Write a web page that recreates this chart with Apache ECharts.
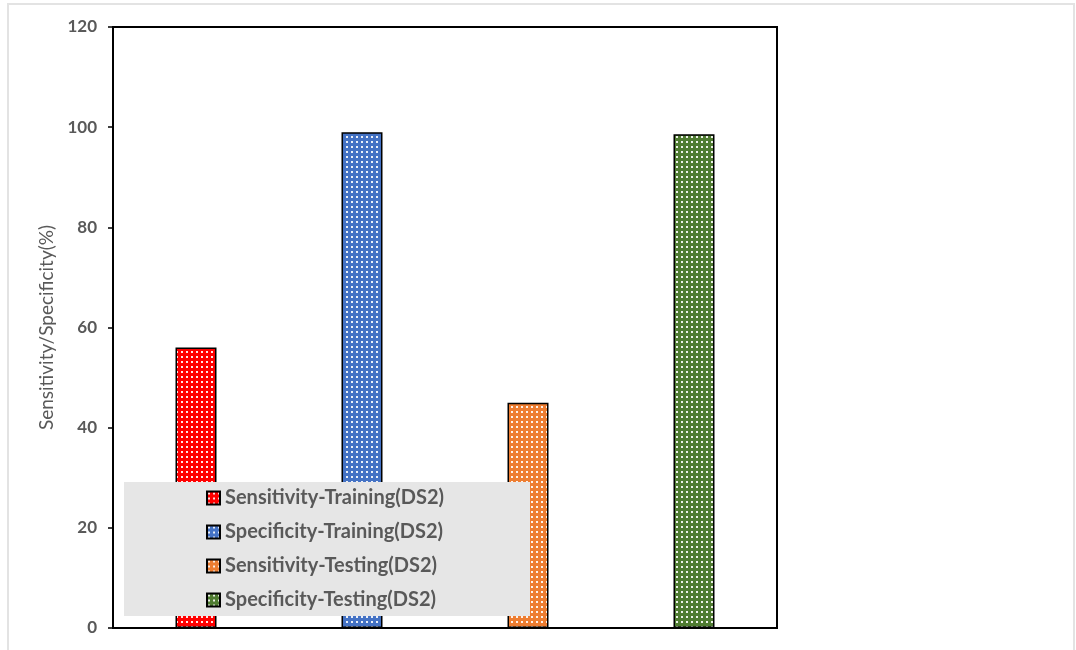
<!DOCTYPE html>
<html>
<head>
<meta charset="utf-8">
<script src="https://cdn.jsdelivr.net/npm/echarts@6/dist/echarts.min.js"></script>
<style>
  html, body { margin: 0; padding: 0; background: #fff; }
  #chart { width: 1076px; height: 650px; }
</style>
</head>
<body>
<div id="chart"></div>
<script>
// Categories (one slot per bar) and series values
const categories = ['Sensitivity-Training', 'Specificity-Training', 'Sensitivity-Testing', 'Specificity-Testing'];
const seriesNames = ['Sensitivity-Training(DS2)', 'Specificity-Training(DS2)', 'Sensitivity-Testing(DS2)', 'Specificity-Testing(DS2)'];
const seriesValues = [56, 99, 45, 98.6];
const seriesColors = ['#ff0000', '#4472c4', '#ed7d31', '#4f7c31'];
const yTicks = [0, 20, 40, 60, 80, 100, 120];

// Dotted fill: base colour with small white squares on a grid
function dotPattern(color) {
  const c = document.createElement('canvas');
  c.width = 5; c.height = 5;
  const g = c.getContext('2d');
  g.fillStyle = color;
  g.fillRect(0, 0, 5, 5);
  g.fillStyle = 'rgba(255,255,255,0.9)';
  g.fillRect(1, 1, 2, 2);
  return { image: c, repeat: 'repeat' };
}

const series = seriesNames.map((name, i) => ({
  name: name,
  type: 'bar',
  barWidth: 41,
  barGap: '-100%',
  data: categories.map((_, j) => (j === i ? seriesValues[i] : null)),
  itemStyle: {
    color: dotPattern(seriesColors[i]),
    borderColor: '#000',
    borderWidth: 1.5
  }
}));

const chart = echarts.init(document.getElementById('chart'));
chart.setOption({
  animation: false,
  backgroundColor: '#fff',
  grid: {
    left: 113, right: 299, top: 27, bottom: 22,
    show: true, borderColor: '#000', borderWidth: 2, backgroundColor: 'transparent'
  },
  xAxis: {
    type: 'category',
    data: categories,
    axisLine: { show: true, lineStyle: { color: '#000', width: 2 } },
    axisTick: { show: false },
    axisLabel: { show: false },
    splitLine: { show: false }
  },
  yAxis: {
    type: 'value',
    min: yTicks[0],
    max: yTicks[yTicks.length - 1],
    interval: 20,
    name: 'Sensitivity/Specificity(%)',
    nameLocation: 'middle',
    nameGap: 56,
    nameTextStyle: { fontFamily: 'Lato', fontSize: 19, color: '#595959' },
    axisLine: { show: true, lineStyle: { color: '#000', width: 2 } },
    axisTick: { show: true, inside: false, length: 5, lineStyle: { color: '#000', width: 1.5 } },
    axisLabel: { fontFamily: 'Lato', fontWeight: 'bold', fontSize: 17, color: '#595959', margin: 16 },
    splitLine: { show: false }
  },
  graphic: {
    z: 50,
    elements: [
      // light grey page frame
      { type: 'polyline', z: 50, silent: true,
        shape: { points: [[8, 650], [8, 4], [1074, 4], [1074, 650]] },
        style: { stroke: '#e3e3e3', lineWidth: 2, fill: null } },
      // legend panel
      { type: 'rect', z: 50, silent: true,
        shape: { x: 124, y: 482, width: 406, height: 134 },
        style: { fill: '#e6e6e6' } }
    ]
  },
  legend: {
    z: 60,
    orient: 'vertical',
    left: 206,
    top: 488,
    itemWidth: 13,
    itemHeight: 13,
    itemGap: 14,
    icon: 'rect',
    padding: 0,
    textStyle: { fontFamily: 'Lato', fontWeight: 'bold', fontSize: 20, color: '#595959', lineHeight: 20, padding: [0, 0, 0, 0] },
    data: seriesNames
  },
  series: series
});
</script>
</body>
</html>
